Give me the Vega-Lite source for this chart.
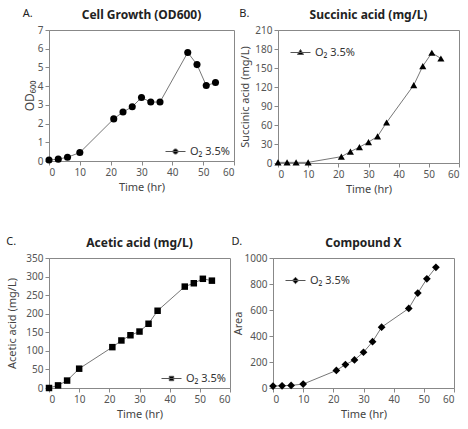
{
  "$schema": "https://vega.github.io/schema/vega-lite/v6.json",
  "padding": {"left": 6, "top": 7, "right": 2, "bottom": 2},
  "background": "white",
  "resolve": {"scale": {"color": "independent"}},
  "spacing": 40,
  "config": {
    "font": "Noto Sans",
    "view": {"stroke": "#888", "strokeWidth": 1},
    "axis": {"grid": false, "domainColor": "#888", "tickColor": "#888", "labelColor": "#555", "labelFontSize": 10, "titleFontSize": 11, "titleFontWeight": "normal", "titleColor": "#444", "tickSize": 4, "labelPadding": 2},
    "title": {"fontSize": 12, "fontWeight": "bold", "color": "#222", "offset": 3},
    "legend": {"title": null, "labelFontSize": 11, "labelColor": "#333", "symbolStrokeColor": "#555", "symbolStrokeWidth": 1, "symbolSize": 400, "symbolFillColor": "black", "padding": 0, "labelOffset": 4}
  },
  "datasets": {
    "growth": [
      {"time": 0, "value": 0.05, "series": "O₂ 3.5%"},
      {"time": 3, "value": 0.1, "series": "O₂ 3.5%"},
      {"time": 6, "value": 0.2, "series": "O₂ 3.5%"},
      {"time": 10, "value": 0.45, "series": "O₂ 3.5%"},
      {"time": 21, "value": 2.25, "series": "O₂ 3.5%"},
      {"time": 24, "value": 2.62, "series": "O₂ 3.5%"},
      {"time": 27, "value": 2.9, "series": "O₂ 3.5%"},
      {"time": 30, "value": 3.39, "series": "O₂ 3.5%"},
      {"time": 33, "value": 3.15, "series": "O₂ 3.5%"},
      {"time": 36, "value": 3.15, "series": "O₂ 3.5%"},
      {"time": 45, "value": 5.8, "series": "O₂ 3.5%"},
      {"time": 48, "value": 5.15, "series": "O₂ 3.5%"},
      {"time": 51, "value": 4.03, "series": "O₂ 3.5%"},
      {"time": 54, "value": 4.19, "series": "O₂ 3.5%"}
    ],
    "succinic": [
      {"time": 0, "value": 1, "series": "O₂ 3.5%"},
      {"time": 3, "value": 1, "series": "O₂ 3.5%"},
      {"time": 6, "value": 1, "series": "O₂ 3.5%"},
      {"time": 10, "value": 1, "series": "O₂ 3.5%"},
      {"time": 21, "value": 10, "series": "O₂ 3.5%"},
      {"time": 24, "value": 18, "series": "O₂ 3.5%"},
      {"time": 27, "value": 25, "series": "O₂ 3.5%"},
      {"time": 30, "value": 33, "series": "O₂ 3.5%"},
      {"time": 33, "value": 42, "series": "O₂ 3.5%"},
      {"time": 36, "value": 64, "series": "O₂ 3.5%"},
      {"time": 45, "value": 123, "series": "O₂ 3.5%"},
      {"time": 48, "value": 153, "series": "O₂ 3.5%"},
      {"time": 51, "value": 174, "series": "O₂ 3.5%"},
      {"time": 54, "value": 165, "series": "O₂ 3.5%"}
    ],
    "acetic": [
      {"time": 0, "value": 0, "series": "O₂ 3.5%"},
      {"time": 3, "value": 7, "series": "O₂ 3.5%"},
      {"time": 6, "value": 20, "series": "O₂ 3.5%"},
      {"time": 10, "value": 52, "series": "O₂ 3.5%"},
      {"time": 21, "value": 110, "series": "O₂ 3.5%"},
      {"time": 24, "value": 128, "series": "O₂ 3.5%"},
      {"time": 27, "value": 142, "series": "O₂ 3.5%"},
      {"time": 30, "value": 152, "series": "O₂ 3.5%"},
      {"time": 33, "value": 173, "series": "O₂ 3.5%"},
      {"time": 36, "value": 208, "series": "O₂ 3.5%"},
      {"time": 45, "value": 273, "series": "O₂ 3.5%"},
      {"time": 48, "value": 282, "series": "O₂ 3.5%"},
      {"time": 51, "value": 294, "series": "O₂ 3.5%"},
      {"time": 54, "value": 289, "series": "O₂ 3.5%"}
    ],
    "compound": [
      {"time": 0, "value": 15, "series": "O₂ 3.5%"},
      {"time": 3, "value": 17, "series": "O₂ 3.5%"},
      {"time": 6, "value": 20, "series": "O₂ 3.5%"},
      {"time": 10, "value": 30, "series": "O₂ 3.5%"},
      {"time": 21, "value": 135, "series": "O₂ 3.5%"},
      {"time": 24, "value": 180, "series": "O₂ 3.5%"},
      {"time": 27, "value": 216, "series": "O₂ 3.5%"},
      {"time": 30, "value": 275, "series": "O₂ 3.5%"},
      {"time": 33, "value": 356, "series": "O₂ 3.5%"},
      {"time": 36, "value": 468, "series": "O₂ 3.5%"},
      {"time": 45, "value": 612, "series": "O₂ 3.5%"},
      {"time": 48, "value": 730, "series": "O₂ 3.5%"},
      {"time": 51, "value": 840, "series": "O₂ 3.5%"},
      {"time": 54, "value": 928, "series": "O₂ 3.5%"}
    ]
  },
  "vconcat": [
    {
      "resolve": {"scale": {"color": "independent"}},
      "spacing": 4,
      "hconcat": [
        {
          "title": {"text": "A.", "anchor": "start", "fontWeight": "normal", "fontSize": 11, "offset": -10},
          "resolve": {"scale": {"color": "independent"}},
          "vconcat": [
            {
              "title": "Cell Growth (OD600)",
              "width": 185, "height": 131,
              "data": {"name": "growth"},
              "encoding": {
                "x": {"field": "time", "type": "quantitative", "scale": {"domain": [0, 60], "nice": false}, "axis": {"values": [0, 10, 20, 30, 40, 50, 60], "title": "Time (hr)"}},
                "y": {"field": "value", "type": "quantitative", "scale": {"domain": [0, 7], "nice": false}, "axis": {"values": [0, 1, 2, 3, 4, 5, 6, 7], "title": "OD₆₀₀", "titleFontSize": 12, "titlePadding": 1}}
              },
              "layer": [
                {"mark": {"type": "line", "color": "#777", "strokeWidth": 1}},
                {"mark": {"type": "point", "filled": true, "shape": "circle", "size": 50, "opacity": 1},
                 "encoding": {"color": {"field": "series", "type": "nominal", "scale": {"range": ["black"]},
                   "legend": {"orient": "bottom-right", "offset": 4, "symbolType": "M-1,0L1,0M-0.25,0A0.25,0.25,0,1,1,0.25,0A0.25,0.25,0,1,1,-0.25,0Z"}}}}
              ]
            }
          ]
        },
        {
          "title": {"text": "B.", "anchor": "start", "fontWeight": "normal", "fontSize": 11, "offset": -10},
          "resolve": {"scale": {"color": "independent"}},
          "vconcat": [
            {
              "title": "Succinic acid (mg/L)",
              "width": 181, "height": 133,
              "data": {"name": "succinic"},
              "encoding": {
                "x": {"field": "time", "type": "quantitative", "scale": {"domain": [0, 60], "nice": false}, "axis": {"values": [0, 10, 20, 30, 40, 50, 60], "title": "Time (hr)"}},
                "y": {"field": "value", "type": "quantitative", "scale": {"domain": [0, 210], "nice": false}, "axis": {"values": [0, 30, 60, 90, 120, 150, 180, 210], "title": "Succinic acid (mg/L)"}}
              },
              "layer": [
                {"mark": {"type": "line", "color": "#777", "strokeWidth": 1}},
                {"mark": {"type": "point", "filled": true, "shape": "triangle-up", "size": 50, "opacity": 1},
                 "encoding": {"color": {"field": "series", "type": "nominal", "scale": {"range": ["black"]},
                   "legend": {"orient": "top-left", "offset": 12, "symbolType": "M-1,0L1,0M0,-0.3L0.3,0.2L-0.3,0.2Z"}}}}
              ]
            }
          ]
        }
      ]
    },
    {
      "resolve": {"scale": {"color": "independent"}},
      "spacing": 0,
      "hconcat": [
        {
          "title": {"text": "C.", "anchor": "start", "fontWeight": "normal", "fontSize": 11, "offset": -10},
          "resolve": {"scale": {"color": "independent"}},
          "vconcat": [
            {
              "title": "Acetic acid (mg/L)",
              "width": 181, "height": 130,
              "data": {"name": "acetic"},
              "encoding": {
                "x": {"field": "time", "type": "quantitative", "scale": {"domain": [0, 60], "nice": false}, "axis": {"values": [0, 10, 20, 30, 40, 50, 60], "title": "Time (hr)"}},
                "y": {"field": "value", "type": "quantitative", "scale": {"domain": [0, 350], "nice": false}, "axis": {"values": [0, 50, 100, 150, 200, 250, 300, 350], "title": "Acetic acid (mg/L)", "titlePadding": 8}}
              },
              "layer": [
                {"mark": {"type": "line", "color": "#777", "strokeWidth": 1}},
                {"mark": {"type": "point", "filled": true, "shape": "square", "size": 42, "opacity": 1},
                 "encoding": {"color": {"field": "series", "type": "nominal", "scale": {"range": ["black"]},
                   "legend": {"orient": "bottom-right", "offset": 4, "symbolType": "M-1,0L1,0M-0.22,-0.22H0.22V0.22H-0.22Z"}}}}
              ]
            }
          ]
        },
        {
          "title": {"text": "D.", "anchor": "start", "fontWeight": "normal", "fontSize": 11, "offset": -10},
          "resolve": {"scale": {"color": "independent"}},
          "vconcat": [
            {
              "title": "Compound X",
              "width": 181, "height": 130,
              "data": {"name": "compound"},
              "encoding": {
                "x": {"field": "time", "type": "quantitative", "scale": {"domain": [0, 60], "nice": false}, "axis": {"values": [0, 10, 20, 30, 40, 50, 60], "title": "Time (hr)"}},
                "y": {"field": "value", "type": "quantitative", "scale": {"domain": [0, 1000], "nice": false}, "axis": {"values": [0, 200, 400, 600, 800, 1000], "format": "d", "title": "Area", "titlePadding": 1}}
              },
              "layer": [
                {"mark": {"type": "line", "color": "#777", "strokeWidth": 1}},
                {"mark": {"type": "point", "filled": true, "shape": "diamond", "size": 60, "opacity": 1},
                 "encoding": {"color": {"field": "series", "type": "nominal", "scale": {"range": ["black"]},
                   "legend": {"orient": "top-left", "offset": 12, "symbolType": "M-1,0L1,0M0,-0.32L0.32,0L0,0.32L-0.32,0Z"}}}}
              ]
            }
          ]
        }
      ]
    }
  ]
}
